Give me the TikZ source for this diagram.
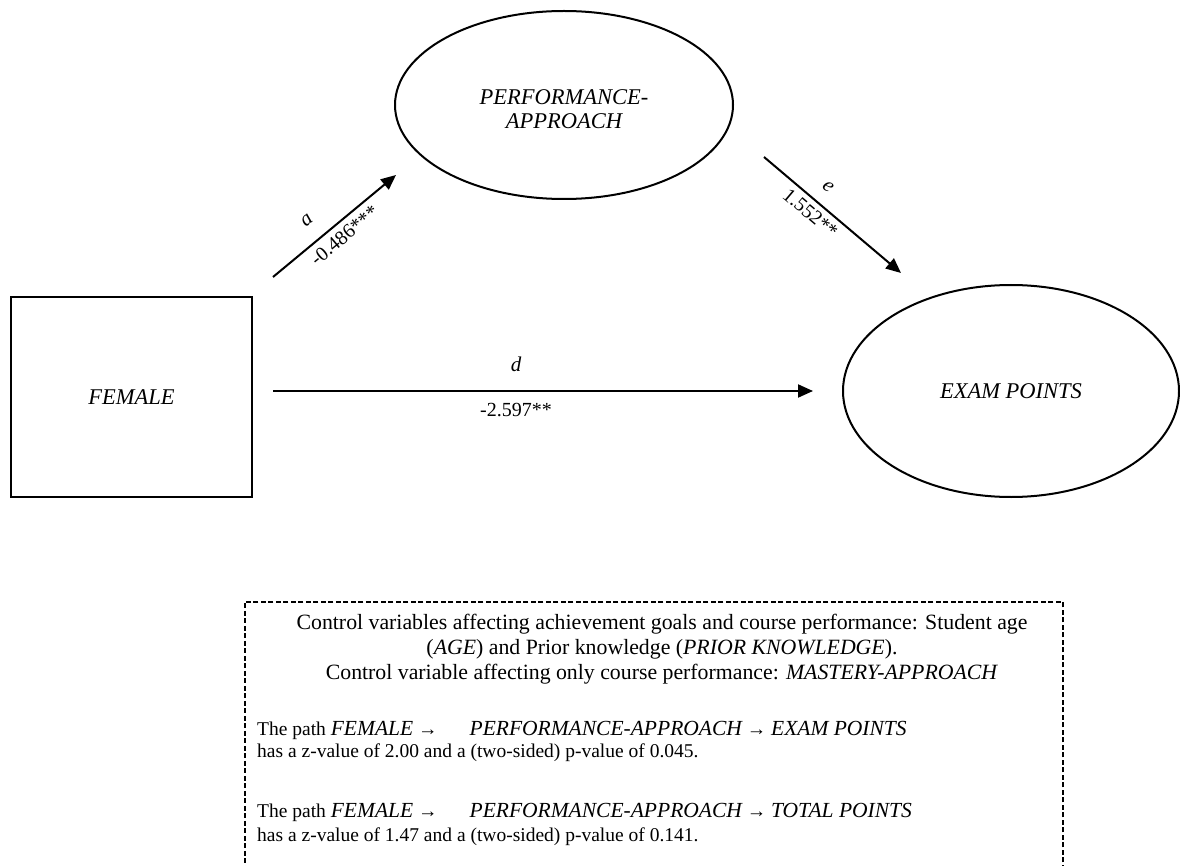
\documentclass[tikz,border=0pt]{standalone}
\usepackage{fontspec}
\setmainfont{Liberation Serif}
\usetikzlibrary{shapes.geometric,arrows.meta}
% variable names inside the notes
\newcommand{\vname}[1]{{\fontsize{21.5}{24}\selectfont\itshape #1}}
\begin{document}
\begin{tikzpicture}[x=1pt,y=-1pt,
  latent/.style={ellipse, draw, line width=2pt, inner sep=0pt, align=center,
    font=\fontsize{22.5}{24}\selectfont\itshape},
  observed/.style={rectangle, draw, line width=1.3pt, inner sep=0pt,
    font=\fontsize{22.5}{25}\selectfont\itshape},
  path arrow/.style={line width=2pt, -{Triangle[length=15pt,width=13pt]}},
  coef/.style={font=\fontsize{20}{22}\selectfont, inner sep=0pt, sloped},
  pathname/.style={font=\fontsize{21}{22}\selectfont\itshape, inner sep=0pt, sloped},
  note/.style={font=\fontsize{21.8}{25}\selectfont, inner sep=0pt, anchor=base},
  pathnote/.style={font=\fontsize{19.5}{22}\selectfont, inner sep=0pt, anchor=base west},
  notebox/.style={draw, line width=1.5pt, dash pattern=on 5pt off 2.5pt,
    inner sep=0pt, anchor=north west}
]
\useasboundingbox (0,0) rectangle (1180,866);
\clip (0,0) rectangle (1180,866);

% variables of the mediation model
\node[observed, minimum width=241pt, minimum height=200pt] (female) at (131.5,397) {FEMALE};
\node[latent, minimum width=338pt, minimum height=188pt] (perf) at (564,105)
  {\rule{0pt}{24pt}PERFORMANCE-\\APPROACH};
\node[latent, minimum width=336pt, minimum height=212pt] (exam) at (1011,391) {EXAM POINTS};

% end points of the paths
\coordinate (aS) at (273,277); \coordinate (aE) at (396,175);
\coordinate (eS) at (764,157); \coordinate (eE) at (901,273);
\coordinate (dS) at (273,391); \coordinate (dE) at (813,391);

% paths with their coefficients
\draw[path arrow] (aS) -- (aE)
  node[pathname, pos=0.39, yshift=22pt] {a}
  node[coef, pos=0.51, yshift=-13.6pt] {-0.486***};
\draw[path arrow] (eS) -- (eE)
  node[pathname, pos=0.38, yshift=18.5pt] {e}
  node[coef, pos=0.40, yshift=-13pt] {1.552**};
\draw[path arrow] (dS) -- (dE)
  node[pathname, pos=0.45, yshift=27pt, sloped=false] {d}
  node[coef, pos=0.45, yshift=-19pt, sloped=false] {-2.597**};

% notes on control variables and indirect effects
\node[notebox, minimum width=818pt, minimum height=320pt] (notes) at (244,601) {};
\node[note] (c1) at (662,629) {Control variables affecting achievement goals and course performance: Student age};
\node[note] (c2) at (662,654) {(\textit{AGE}) and Prior knowledge (\textit{PRIOR KNOWLEDGE}).};
\node[note] (c3) at (662,679) {Control variable affecting only course performance: \textit{MASTERY-APPROACH}};
\node[pathnote] (p1) at (257,735) {The path \vname{FEMALE} →\hspace{32pt}\vname{PERFORMANCE-APPROACH} → \vname{EXAM POINTS}};
\node[pathnote] (p2) at (257,757.5) {has a z-value of 2.00 and a (two-sided) p-value of 0.045.};
\node[pathnote] (p3) at (257,817) {The path \vname{FEMALE} →\hspace{32pt}\vname{PERFORMANCE-APPROACH} → \vname{TOTAL POINTS}};
\node[pathnote] (p4) at (257,841) {has a z-value of 1.47 and a (two-sided) p-value of 0.141.};
\end{tikzpicture}
\end{document}
